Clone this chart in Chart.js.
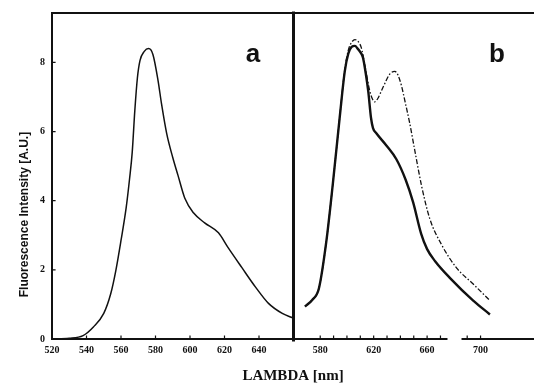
<!DOCTYPE html>
<html>
<head>
<meta charset="utf-8">
<script src="https://cdn.jsdelivr.net/npm/chart.js@4.4.1/dist/chart.umd.min.js"></script>
<style>
  html, body { margin: 0; padding: 0; background: #fff; overflow: hidden; }
  #wrap { width: 534px; height: 391px; }
</style>
</head>
<body>
<div id="wrap"><canvas id="spectraChart"></canvas></div>
<script>
/* ===========================
Data
=========================== */

// panel a: single emission spectrum
const aLambda = [520, 530, 538, 544, 550, 554, 557, 560, 563, 565, 566.5, 568, 569.5, 571, 573.5, 576,
    578.5, 581.5, 583.5, 586.5, 590, 593, 597, 602, 608.5, 616.5, 622, 630, 638, 645.5, 653.5, 660];
const aValues = [0, 0.02, 0.1, 0.35, 0.74, 1.3, 1.98, 2.85, 3.8, 4.65, 5.4, 6.6, 7.55, 8.05, 8.32, 8.4,
    8.23, 7.47, 6.8, 5.94, 5.25, 4.74, 4.07, 3.65, 3.36, 3.07, 2.65, 2.07, 1.5, 1.03, 0.74, 0.6];

// panel b: solid curve
const bSolidLambda = [568.6, 574, 579, 584.5, 589.5, 594.6, 598.4, 601, 603.5, 606, 608, 610, 612, 614,
    616, 618, 619.5, 622, 629.5, 637, 644, 649.5, 655.5, 660, 666, 677, 694.5, 707];
const bSolidValues = [0.94, 1.13, 1.46, 2.8, 4.51, 6.42, 7.75, 8.25, 8.45, 8.48, 8.4, 8.3, 8.14, 7.7,
    7.15, 6.4, 6.1, 5.95, 5.6, 5.2, 4.6, 3.96, 3.05, 2.6, 2.25, 1.77, 1.11, 0.71];

// panel b: dash-dot curve
const bDashLambda = [568.6, 574, 579, 584.5, 589.5, 594.6, 598.4, 601, 603.5, 606, 608.5, 610.8, 613,
    617, 619, 620.8, 623, 627, 632, 635.8, 638, 640.8, 643.3, 647, 650.8, 655.8, 662, 670.8, 682, 694.5, 707];
const bDashValues = [0.94, 1.13, 1.46, 2.8, 4.51, 6.42, 7.8, 8.35, 8.58, 8.66, 8.6, 8.42, 8.0,
    7.19, 6.95, 6.86, 6.95, 7.28, 7.66, 7.74, 7.65, 7.33, 6.9, 6.24, 5.45, 4.44, 3.48, 2.73, 2.06, 1.59, 1.11];

// ticks
const yTicks = [0, 2, 4, 6, 8];
const aTicks = [520, 540, 560, 580, 600, 620, 640];
const bTicks = [580, 590, 600, 610, 620, 630, 640, 650, 660, 670, 690, 700];
const bLabels = [580, 620, 660, 700];
const bAxisBreak = [674.5, 686.5];

const yTitle = "Fluorescence Intensity [A.U.]";
const xTitle = "LAMBDA [nm]";

/* ===========================
Helpers
=========================== */

function points(xs, ys) {
    return xs.map((x, i) => ({ x: x, y: ys[i] }));
}

const ink = "#111";

const tickFont = { family: '"Liberation Serif", serif', size: 10, weight: "bold" };

/* ===========================
Frame, tick marks and panel letters
=========================== */

const framePlugin = {

    id: "frame",

    afterDatasetsDraw(chart) {

        const { ctx, chartArea: area, scales } = chart;
        const xa = scales.xa, xb = scales.xb, y = scales.y;

        ctx.save();
        ctx.strokeStyle = ink;
        ctx.lineCap = "square";

        // box lines
        ctx.lineWidth = 2;
        ctx.beginPath();
        ctx.moveTo(area.left, area.top);
        ctx.lineTo(area.right, area.top);
        ctx.moveTo(area.left, area.top);
        ctx.lineTo(area.left, area.bottom);
        ctx.moveTo(area.left, area.bottom);
        ctx.lineTo(xb.getPixelForValue(bAxisBreak[0]), area.bottom);
        ctx.moveTo(xb.getPixelForValue(bAxisBreak[1]), area.bottom);
        ctx.lineTo(area.right, area.bottom);
        ctx.stroke();

        // panel divider
        ctx.lineWidth = 3;
        ctx.beginPath();
        ctx.moveTo(xb.left, area.top);
        ctx.lineTo(xb.left, area.bottom + 1);
        ctx.stroke();

        // inward tick marks
        ctx.lineWidth = 1.2;
        ctx.beginPath();
        aTicks.slice(1).forEach(v => {
            const px = xa.getPixelForValue(v);
            ctx.moveTo(px, area.bottom);
            ctx.lineTo(px, area.bottom - 3);
        });
        bTicks.forEach(v => {
            const px = xb.getPixelForValue(v);
            ctx.moveTo(px, area.bottom);
            ctx.lineTo(px, area.bottom - 3);
        });
        yTicks.slice(1).forEach(v => {
            const py = y.getPixelForValue(v);
            ctx.moveTo(area.left, py);
            ctx.lineTo(area.left + 3, py);
        });
        ctx.stroke();

        // panel letters
        ctx.fillStyle = ink;
        ctx.font = 'bold 26px "Liberation Sans", Arial, sans-serif';
        ctx.textAlign = "center";
        ctx.textBaseline = "alphabetic";
        ctx.fillText("a", xa.getPixelForValue(636.5), y.getPixelForValue(8.0));
        ctx.fillText("b", xb.getPixelForValue(712.3), y.getPixelForValue(8.0));

        // y axis title
        ctx.translate(area.left - 27, y.getPixelForValue(3.6));
        ctx.rotate(-Math.PI / 2);
        ctx.font = 'bold 12px "Liberation Sans", Arial, sans-serif';
        ctx.textBaseline = "middle";
        ctx.fillText(yTitle, 0, 0);

        ctx.restore();
    }
};

/* ===========================
Chart
=========================== */

const spectraCtx = document.getElementById("spectraChart");

new Chart(spectraCtx, {

    type: "line",

    data: {

        datasets: [
            {
                data: points(aLambda, aValues),
                xAxisID: "xa",
                borderColor: ink,
                borderWidth: 1.5,
                pointRadius: 0,
                cubicInterpolationMode: "monotone"
            },
            {
                data: points(bSolidLambda, bSolidValues),
                xAxisID: "xb",
                borderColor: ink,
                borderWidth: 2.4,
                pointRadius: 0,
                cubicInterpolationMode: "monotone"
            },
            {
                data: points(bDashLambda, bDashValues),
                xAxisID: "xb",
                borderColor: ink,
                borderWidth: 1.3,
                borderDash: [5, 2, 1.5, 2],
                pointRadius: 0,
                cubicInterpolationMode: "monotone"
            }
        ]

    },

    options: {

        responsive: true,
        maintainAspectRatio: false,
        animation: false,

        layout: {
            padding: { top: 8, left: 0, right: 0, bottom: 0 }
        },

        plugins: {
            legend: { display: false },
            tooltip: { enabled: false },
            title: {
                display: true,
                text: xTitle,
                position: "bottom",
                fullSize: false,
                color: ink,
                font: { family: '"Liberation Serif", serif', size: 15, weight: "bold" },
                padding: { top: 6, bottom: 6 }
            }
        },

        scales: {

            xa: {
                type: "linear",
                position: "bottom",
                stack: "lambda",
                stackWeight: 241.5,
                min: 520,
                max: 660,
                grid: { display: false, drawTicks: false },
                border: { display: false },
                afterBuildTicks: s => { s.ticks = aTicks.map(v => ({ value: v })); },
                afterFit: s => { s.height = 22; },
                ticks: {
                    padding: 5,
                    color: ink,
                    font: tickFont,
                    autoSkip: false,
                    maxRotation: 0
                }
            },

            xb: {
                type: "linear",
                position: "bottom",
                stack: "lambda",
                stackWeight: 240.5,
                min: 560,
                max: 740,
                grid: { display: false, drawTicks: false },
                border: { display: false },
                afterBuildTicks: s => { s.ticks = bTicks.map(v => ({ value: v })); },
                afterFit: s => { s.height = 22; },
                ticks: {
                    padding: 5,
                    color: ink,
                    font: tickFont,
                    autoSkip: false,
                    maxRotation: 0,
                    callback: v => bLabels.includes(v) ? String(v) : ""
                }
            },

            y: {
                type: "linear",
                position: "left",
                min: 0,
                max: 9.43,
                grid: { display: false, drawTicks: false },
                border: { display: false },
                afterBuildTicks: s => { s.ticks = yTicks.map(v => ({ value: v })); },
                afterFit: s => { s.width = 52; },
                ticks: {
                    padding: 7,
                    color: ink,
                    font: tickFont
                }
            }

        }

    },

    plugins: [framePlugin]

});
</script>
</body>
</html>
